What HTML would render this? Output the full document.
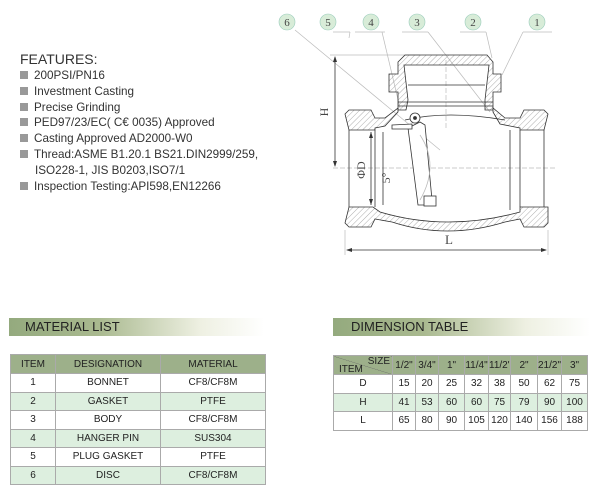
<!DOCTYPE html>
<html><head><meta charset="utf-8"><style>
body{margin:0;width:600px;height:493px;background:#fff;font-family:"Liberation Sans",sans-serif;color:#333;position:relative;overflow:hidden}
.f{position:absolute;left:20px;font-size:11.7px;white-space:nowrap}
.f i{display:inline-block;width:8px;height:8px;background:#999;margin-right:6px;vertical-align:-0px}
.band{position:absolute;height:18px;top:318px;background:linear-gradient(90deg,#94aa7e 0%,#a9b98f 35%,#eef0e2 75%,#fff 100%);font-size:13px;line-height:18px;color:#222}
table{position:absolute;border-collapse:collapse;font-size:10px;text-align:center;color:#222;table-layout:fixed}
td,th{border:1px solid #aaa;padding:0;font-weight:normal;white-space:nowrap;overflow:hidden}
th{background:#9db08a;height:18px}
td{height:17.5px}
tr.g td{background:#ddefdf}
</style></head><body>
<div class="f" style="top:51px;font-size:14px;color:#333">FEATURES:</div>
<div class="f" style="top:69px"><i></i>200PSI/PN16</div>
<div class="f" style="top:85px"><i></i>Investment Casting</div>
<div class="f" style="top:101px"><i></i>Precise Grinding</div>
<div class="f" style="top:116px"><i></i>PED97/23/EC( C€ 0035) Approved</div>
<div class="f" style="top:132px"><i></i>Casting Approved AD2000-W0</div>
<div class="f" style="top:148px"><i></i>Thread:ASME B1.20.1 BS21.DIN2999/259,</div>
<div class="f" style="top:164px;left:35px">ISO228-1, JIS B0203,ISO7/1</div>
<div class="f" style="top:180px"><i></i>Inspection Testing:API598,EN12266</div>

<div class="band" style="left:9px;width:255px"><span style="padding-left:16px">MATERIAL LIST</span></div>
<div class="band" style="left:333px;width:257px"><span style="padding-left:18px">DIMENSION TABLE</span></div>

<table style="left:10px;top:354px;width:255px">
<colgroup><col style="width:45px"><col style="width:105px"><col style="width:105px"></colgroup>
<tr><th>ITEM</th><th>DESIGNATION</th><th>MATERIAL</th></tr>
<tr><td>1</td><td>BONNET</td><td>CF8/CF8M</td></tr>
<tr class="g"><td>2</td><td>GASKET</td><td>PTFE</td></tr>
<tr><td>3</td><td>BODY</td><td>CF8/CF8M</td></tr>
<tr class="g"><td>4</td><td>HANGER PIN</td><td>SUS304</td></tr>
<tr><td>5</td><td>PLUG GASKET</td><td>PTFE</td></tr>
<tr class="g"><td>6</td><td>DISC</td><td>CF8/CF8M</td></tr>
</table>

<table style="left:333px;top:355px;width:254px">
<colgroup><col style="width:59px"><col style="width:23px"><col style="width:23px"><col style="width:26px"><col style="width:24px"><col style="width:22px"><col style="width:27px"><col style="width:24px"><col style="width:26px"></colgroup>
<tr><th style="position:relative;background:linear-gradient(to top right,#9db08a 49%,#666 50%,#9db08a 51%)"><span style="position:absolute;right:2px;top:0px">SIZE</span><span style="position:absolute;left:5px;bottom:-1px">ITEM</span></th><th>1/2"</th><th>3/4"</th><th>1"</th><th>11/4"</th><th>11/2"</th><th>2"</th><th>21/2"</th><th>3"</th></tr>
<tr><td>D</td><td>15</td><td>20</td><td>25</td><td>32</td><td>38</td><td>50</td><td>62</td><td>75</td></tr>
<tr class="g"><td>H</td><td>41</td><td>53</td><td>60</td><td>60</td><td>75</td><td>79</td><td>90</td><td>100</td></tr>
<tr><td>L</td><td>65</td><td>80</td><td>90</td><td>105</td><td>120</td><td>140</td><td>156</td><td>188</td></tr>
</table>

<svg style="position:absolute;left:0;top:0" width="600" height="300" viewBox="0 0 600 300">
<defs><pattern id="h" width="4" height="4" patternUnits="userSpaceOnUse" patternTransform="rotate(45)"><line x1="0" y1="0" x2="0" y2="4" stroke="#999" stroke-width="0.8"/></pattern></defs>
<g stroke="#bbb" stroke-width="0.7" fill="none">
<line x1="295" y1="30" x2="440" y2="150"/>
<line x1="333" y1="32" x2="350" y2="32"/><line x1="350" y1="32" x2="349" y2="38"/><line x1="355" y1="32" x2="385" y2="32"/>
<line x1="382" y1="32" x2="400" y2="108"/>
<line x1="402" y1="32" x2="428" y2="32"/><line x1="428" y1="32" x2="490" y2="112"/>
<line x1="460" y1="32" x2="486" y2="32"/><line x1="486" y1="32" x2="492" y2="58"/>
<line x1="523" y1="32" x2="552" y2="32"/><line x1="523" y1="32" x2="502" y2="75"/>
<line x1="330" y1="55" x2="420" y2="55"/>
<line x1="333" y1="168" x2="556" y2="168" stroke-dasharray="5,2"/>
<line x1="446" y1="60" x2="446" y2="128" stroke-dasharray="5,2"/>
<line x1="345" y1="230" x2="345" y2="255"/><line x1="548" y1="230" x2="548" y2="255"/>
</g>
<g fill="#d8ecd8" stroke="#9cb" stroke-width="0.6">
<circle cx="287" cy="22" r="8"/><circle cx="328" cy="22" r="8"/><circle cx="371" cy="22" r="8"/><circle cx="417" cy="22" r="8"/><circle cx="473" cy="22" r="8"/><circle cx="537" cy="22" r="8"/>
</g>
<g font-family="Liberation Serif" font-size="11" fill="#444" text-anchor="middle">
<text x="287" y="26">6</text><text x="328" y="26">5</text><text x="371" y="26">4</text><text x="417" y="26">3</text><text x="473" y="26">2</text><text x="537" y="26">1</text>
<text x="449" y="244" font-size="13">L</text>
<text transform="translate(328,112) rotate(-90)" font-size="12">H</text>
<text transform="translate(365,170) rotate(-90)" font-size="12">ΦD</text>
<text transform="translate(390,178) rotate(-90)" font-size="12">5°</text>
</g>
<g stroke="#333" stroke-width="0.8" fill="url(#h)">
<path d="M345,114 L349,110 L371,110 L375,118 L385,118 L398,108 L398,112 L385,126 L375,128 L375,130 L349,130 Z"/>
<path d="M345,223 L349,227 L371,227 L375,219 L392,222 Q447,240 505,222 L520,219 L524,227 L544,227 L548,223 L548,207 L520,207 L520,212 Q447,232 380,212 L373,207 L349,207 Z"/>
<path d="M548,114 L544,110 L524,110 L520,118 L505,118 L493,108 L493,112 L500,124 L520,128 L520,130 L544,130 Z"/>
<path d="M398,62 L405,55 L487,55 L493,62 L493,74 L501,74 L501,92 L493,92 L493,110 L485,110 L485,100 L489,65 L404,65 L408,100 L406,110 L398,110 L398,92 L389,92 L389,74 L398,74 Z"/>
</g>
<g stroke="#333" stroke-width="0.8" fill="none">
<line x1="398" y1="102" x2="493" y2="102"/><line x1="398" y1="106" x2="493" y2="106"/>
<line x1="408" y1="85" x2="485" y2="85"/>
<path d="M405,120 Q447,110 505,120"/>
<line x1="375" y1="130" x2="375" y2="207"/><line x1="520" y1="130" x2="520" y2="207"/>
<line x1="383" y1="132" x2="383" y2="205"/><line x1="510" y1="130" x2="510" y2="210"/>
<line x1="349" y1="130" x2="349" y2="207"/><line x1="544" y1="130" x2="544" y2="207"/>
<path d="M408,128 L420,122 L425,125 L432,200 L425,205 L418,205 Z" fill="#fff"/>
<circle cx="415" cy="118" r="5" fill="#fff"/><circle cx="415" cy="118" r="1.5" fill="#333"/>
<rect x="424" y="196" width="12" height="10" fill="#fff"/>
<path d="M392,125 L412,124 L412,129 L392,129 Z" fill="#fff"/>
<path d="M420,135 Q440,165 420,200" stroke="#bbb"/>
<line x1="371" y1="132" x2="371" y2="205"/>
<line x1="335" y1="57" x2="335" y2="166"/>
<line x1="347" y1="250" x2="546" y2="250"/>
</g>
<g fill="#333"><path d="M335,56 l-2,6 h4z"/><path d="M335,167 l-2,-6 h4z"/><path d="M346,250 l6,-2 v4z"/><path d="M547,250 l-6,-2 v4z"/><path d="M371,132 l-2,6 h4z"/><path d="M371,205 l-2,-6 h4z"/></g>
</svg>
</body></html>
